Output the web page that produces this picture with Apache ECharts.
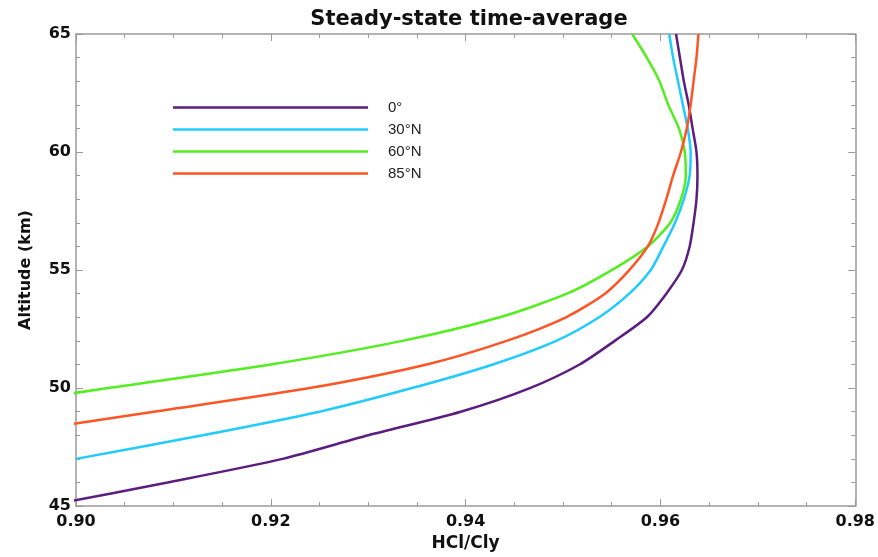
<!DOCTYPE html>
<html>
<head>
<meta charset="utf-8">
<script src="https://cdn.jsdelivr.net/npm/echarts@6/dist/echarts.min.js"></script>
<style>
  html, body { margin: 0; padding: 0; background: #fff; }
  #chart { width: 878px; height: 557px; }
</style>
</head>
<body>
<div id="chart"></div>
<script>
// altitude levels (km)
const altitudes = [45, 46, 47, 48, 49, 50, 51, 52, 53, 54, 55, 56, 57, 58, 59, 60, 61, 62, 63, 64, 65];

// HCl/Cly per latitude, null where the curve is off the plot
const lat0 = [0.8968, 0.9094, 0.9212, 0.9300, 0.9395, 0.9466, 0.9517, 0.9553, 0.9586, 0.9606, 0.9622,
  0.9630, 0.9634, 0.9637, 0.9638, 0.9637, 0.9633, 0.9629, 0.9624, 0.9620, 0.9616];
const lat30 = [null, null, 0.9000, 0.9130, 0.9250, 0.9345, 0.9428, 0.9493, 0.9537, 0.9568, 0.9590,
  0.9603, 0.9615, 0.9624, 0.9630, 0.9631, 0.9628, 0.9623, 0.9618, 0.9613, 0.9609];
const lat60 = [null, null, null, null, 0.8870, 0.9033, 0.9200, 0.9335, 0.9435, 0.9504, 0.9550,
  0.9587, 0.9610, 0.9621, 0.9626, 0.9625, 0.9619, 0.9608, 0.9599, 0.9586, 0.9571];
const lat85 = [null, null, null, 0.8920, 0.9080, 0.9240, 0.9360, 0.9442, 0.9503, 0.9543, 0.9568,
  0.9587, 0.9598, 0.9606, 0.9613, 0.9621, 0.9627, 0.9631, 0.9634, 0.9637, 0.9639];

const seriesNames = ['0°', '30°N', '60°N', '85°N'];
const seriesColors = ['#5B1E80', '#1FCBFF', '#52EE1E', '#FF5423'];
const seriesValues = [lat0, lat30, lat60, lat85];

const xTicks = [0.90, 0.92, 0.94, 0.96, 0.98];
const yTicks = [45, 50, 55, 60, 65];

const chart = echarts.init(document.getElementById('chart'));

const boldFont = 'DejaVu Sans, Verdana, sans-serif';
const legendFont = 'Liberation Sans, Arial, Helvetica, sans-serif';
const axisGray = '#9a9a9a';

function pairs(vals) {
  const out = [];
  vals.forEach((v, i) => { if (v !== null) out.push([v, altitudes[i]]); });
  return out;
}

function xAxisDef(pos, showLabels) {
  return {
    type: 'value',
    position: pos,
    min: xTicks[0],
    max: xTicks[xTicks.length - 1],
    interval: 0.02,
    axisLine: { show: true, onZero: false, lineStyle: { color: axisGray, width: 1.5 } },
    axisTick: { show: true, inside: true, length: 7, lineStyle: { color: axisGray } },
    minorTick: { show: true, splitNumber: 4, length: 4, lineStyle: { color: axisGray } },
    splitLine: { show: false },
    axisLabel: {
      show: showLabels, color: '#111', fontFamily: boldFont, fontWeight: 'bold', fontSize: 16, margin: 8,
      formatter: v => v.toFixed(2)
    },
    name: showLabels ? 'HCl/Cly' : '',
    nameLocation: 'middle',
    nameGap: 28,
    nameTextStyle: { color: '#111', fontFamily: boldFont, fontWeight: 'bold', fontSize: 17 }
  };
}

function yAxisDef(pos, showLabels) {
  return {
    type: 'value',
    position: pos,
    min: yTicks[0],
    max: yTicks[yTicks.length - 1],
    interval: 5,
    axisLine: { show: true, onZero: false, lineStyle: { color: axisGray, width: 1.5 } },
    axisTick: { show: true, inside: true, length: 7, lineStyle: { color: axisGray } },
    minorTick: { show: true, splitNumber: 5, length: 4, lineStyle: { color: axisGray } },
    splitLine: { show: false },
    axisLabel: { show: showLabels, color: '#111', fontFamily: boldFont, fontWeight: 'bold', fontSize: 16, margin: 5 },
    name: showLabels ? 'Altitude (km)' : '',
    nameLocation: 'middle',
    nameGap: 42,
    nameTextStyle: { color: '#111', fontFamily: boldFont, fontWeight: 'bold', fontSize: 16 }
  };
}

const option = {
  backgroundColor: '#fff',
  animation: false,
  title: {
    text: 'Steady-state time-average',
    left: 464,
    textAlign: 'center',
    top: 4,
    textStyle: { color: '#111', fontFamily: boldFont, fontWeight: 'bold', fontSize: 21 }
  },
  legend: {
    orient: 'vertical',
    left: 173,
    top: 100,
    padding: 0,
    itemWidth: 195,
    itemHeight: 2.5,
    itemGap: 7,
    icon: 'rect',
    textStyle: { color: '#222', fontFamily: legendFont, fontSize: 15, lineHeight: 15, padding: [0, 0, 0, 15] },
    data: seriesNames
  },
  grid: { left: 76, right: 22, top: 34, bottom: 46 },
  xAxis: [xAxisDef('bottom', true), xAxisDef('top', false)],
  yAxis: [yAxisDef('left', true), yAxisDef('right', false)],
  series: seriesNames.map((name, i) => ({
    name: name,
    type: 'line',
    xAxisIndex: 0,
    yAxisIndex: 0,
    showSymbol: false,
    smooth: 0.25,
    clip: true,
    color: seriesColors[i],
    lineStyle: { width: 2.5, color: seriesColors[i] },
    data: pairs(seriesValues[i])
  }))
};

chart.setOption(option);
</script>
</body>
</html>
